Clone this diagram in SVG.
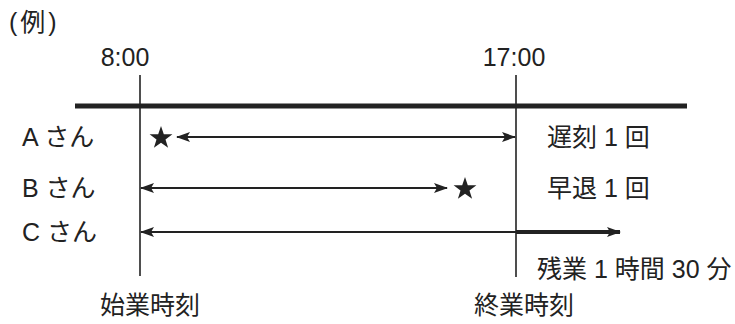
<svg xmlns="http://www.w3.org/2000/svg" width="735" height="324" viewBox="0 0 735 324">
<defs>
<style>
text{font-family:"Liberation Sans","Noto Sans CJK JP",sans-serif;fill:#222;font-size:25px}
.ln{stroke:#222;fill:none}
</style>
<marker id="ah" viewBox="0 0 14 10" refX="13" refY="5" markerWidth="14" markerHeight="10" markerUnits="userSpaceOnUse" orient="auto-start-reverse">
<path d="M0,0 L14,5 L0,10 L3,5 Z" fill="#222"/>
</marker>
<path id="star" d="M0,-12 L2.8,-3.8 L11.4,-3.7 L4.5,1.4 L7.1,9.7 L0,4.8 L-7.1,9.7 L-4.5,1.4 L-11.4,-3.7 L-2.8,-3.8 Z" fill="#222"/>
</defs>
<rect width="735" height="324" fill="#fff"/>
<text x="9" y="31" font-size="21" letter-spacing="3">(例)</text>
<g id="axis">
<line class="ln" x1="75" y1="106" x2="687" y2="106" stroke-width="5"/>
<line class="ln" x1="140" y1="75" x2="140" y2="276" stroke-width="1.6"/>
<line class="ln" x1="516" y1="75" x2="516" y2="277" stroke-width="1.6"/>
<text x="125" y="66" text-anchor="middle">8:00</text>
<text x="514" y="66" text-anchor="middle">17:00</text>
<text x="150" y="314" text-anchor="middle">始業時刻</text>
<text x="524" y="314" text-anchor="middle">終業時刻</text>
</g>
<g id="rowA">
<text x="22" y="146">A さん</text>
<use href="#star" x="161" y="138"/>
<text x="547" y="146">遅刻 1 回</text>
</g>
<g id="rowB">
<text x="22" y="197">B さん</text>
<use href="#star" x="465" y="189"/>
<text x="547" y="197">早退 1 回</text>
</g>
<g id="rowC">
<text x="22" y="241">C さん</text>
<text x="537" y="278">残業 1 時間 30 分</text>
</g>
<g id="connectors">
<line class="ln" x1="177" y1="137" x2="515" y2="137" stroke-width="2" marker-start="url(#ah)" marker-end="url(#ah)"/>
<line class="ln" x1="141" y1="188" x2="447" y2="188" stroke-width="2" marker-start="url(#ah)" marker-end="url(#ah)"/>
<line class="ln" x1="141" y1="232" x2="516" y2="232" stroke-width="2" marker-start="url(#ah)"/>
<line class="ln" x1="516" y1="232" x2="620" y2="232" stroke-width="4" marker-end="url(#ah)"/>
</g>
</svg>
